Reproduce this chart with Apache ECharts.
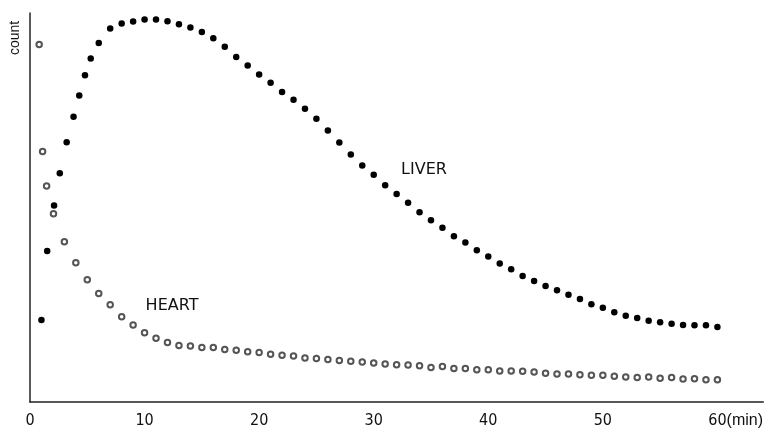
<!DOCTYPE html>
<html>
<head>
<meta charset="utf-8">
<script src="https://cdn.jsdelivr.net/npm/echarts@6/dist/echarts.min.js"></script>
<style>
  html, body { margin: 0; padding: 0; background: #fff; }
  #chart { width: 766px; height: 432px; }
</style>
</head>
<body>
<div id="chart"></div>
<script>
  // time in minutes, count in arbitrary units (0 = axis, 100 = top of y axis)
  const liverTime = [1, 1.5, 2.1, 2.6, 3.2, 3.8, 4.3, 4.8, 5.3,
    6, 7, 8, 9, 10, 11, 12, 13, 14, 15, 16, 17, 18, 19, 20,
    21, 22, 23, 24, 25, 26, 27, 28, 29, 30, 31, 32, 33, 34, 35, 36, 37, 38, 39, 40,
    41, 42, 43, 44, 45, 46, 47, 48, 49, 50, 51, 52, 53, 54, 55, 56, 57, 58, 59, 60]
  const liverCount = [21.1, 38.8, 50.5, 58.8, 66.8, 73.3, 78.8, 84.0, 88.3,
    92.3, 96.0, 97.3, 97.8, 98.3, 98.3, 97.9, 97.1, 96.3, 95.1, 93.5, 91.3, 88.7, 86.5, 84.2,
    82.1, 79.7, 77.7, 75.4, 72.8, 69.8, 66.7, 63.6, 60.8, 58.4, 55.7, 53.5, 51.2, 48.8, 46.7, 44.8,
    42.6, 41.0, 39.0, 37.4, 35.6, 34.1, 32.4, 31.1, 29.8, 28.7, 27.6, 26.5, 25.1, 24.2, 23.1, 22.2,
    21.6, 20.9, 20.5, 20.1, 19.8, 19.7, 19.7, 19.3]

  const heartTime = [0.8, 1.1, 1.45, 2.05,
    3, 4, 5, 6, 7, 8, 9, 10, 11, 12, 13, 14, 15, 16, 17, 18, 19, 20,
    21, 22, 23, 24, 25, 26, 27, 28, 29, 30, 31, 32, 33, 34, 35, 36, 37, 38, 39, 40,
    41, 42, 43, 44, 45, 46, 47, 48, 49, 50, 51, 52, 53, 54, 55, 56, 57, 58, 59, 60]
  const heartCount = [91.9, 64.4, 55.5, 48.4,
    41.2, 35.8, 31.4, 27.9, 25.0, 21.9, 19.8, 17.8, 16.4, 15.3, 14.5, 14.4, 14.0, 14.0, 13.5, 13.3, 12.9, 12.7,
    12.3, 12.0, 11.8, 11.3, 11.2, 10.9, 10.7, 10.5, 10.3, 10.0, 9.8, 9.6, 9.5, 9.3, 8.9, 9.1, 8.6, 8.6, 8.3, 8.3,
    8.0, 8.0, 7.9, 7.7, 7.4, 7.2, 7.2, 7.0, 6.9, 6.9, 6.6, 6.4, 6.3, 6.4, 6.1, 6.3, 5.9, 6.0, 5.7, 5.7]

  const xTicks = [0, 10, 20, 30, 40, 50, 60]

  const zip = (xs, ys) => xs.map((x, i) => [x, ys[i]])

  const labelFont = '"DejaVu Sans Condensed", "Liberation Sans Narrow", "Liberation Sans", sans-serif'

  const chart = echarts.init(document.getElementById('chart'), null, { renderer: 'canvas' })
  chart.setOption({
    animation: false,
    backgroundColor: '#fff',
    grid: { left: 30, right: 1, top: 13, bottom: 30 },
    xAxis: {
      type: 'value',
      min: 0,
      max: 64,
      interval: 10,
      splitLine: { show: false },
      axisTick: { show: false },
      axisLine: { lineStyle: { color: '#222', width: 1.5 } },
      axisLabel: {
        margin: 11,
        color: '#111',
        fontSize: 16,
        fontFamily: labelFont,
        showMaxLabel: false,
        formatter: v => {
          if (xTicks.indexOf(v) < 0) return ''
          if (v === 60) return '{s|(min)}60{m|(min)}'
          return String(v)
        },
        rich: {
          s: { color: 'transparent', fontSize: 16, fontFamily: '"Liberation Sans", sans-serif' },
          m: { color: '#111', fontSize: 16, fontFamily: '"Liberation Sans", sans-serif' }
        }
      }
    },
    yAxis: {
      type: 'value',
      min: 0,
      max: 100,
      splitLine: { show: false },
      axisTick: { show: false },
      axisLabel: { show: false },
      axisLine: { show: true, lineStyle: { color: '#222', width: 1.5 } }
    },
    series: [
      {
        name: 'LIVER',
        type: 'scatter',
        symbol: 'circle',
        symbolSize: 6.5,
        itemStyle: { color: '#000', opacity: 1 },
        data: zip(liverTime, liverCount)
      },
      {
        name: 'HEART',
        type: 'scatter',
        symbol: 'emptyCircle',
        symbolSize: 5.5,
        itemStyle: { color: '#555', borderWidth: 1.1, opacity: 1 },
        data: zip(heartTime, heartCount)
      }
    ],
    graphic: [
      {
        type: 'text', x: 15, y: 38, rotation: Math.PI / 2,
        style: { text: 'count', fontSize: 14, fontFamily: '"Liberation Sans", sans-serif',
          fill: '#111', align: 'center', verticalAlign: 'middle' }
      },
      {
        type: 'text', x: 424, y: 170,
        style: { text: 'LIVER', fontSize: 16, fontFamily: '"DejaVu Sans", sans-serif',
          fill: '#111', align: 'center', verticalAlign: 'middle' }
      },
      {
        type: 'text', x: 172, y: 306,
        style: { text: 'HEART', fontSize: 16, fontFamily: '"DejaVu Sans", sans-serif',
          fill: '#111', align: 'center', verticalAlign: 'middle' }
      }
    ]
  })
</script>
</body>
</html>
